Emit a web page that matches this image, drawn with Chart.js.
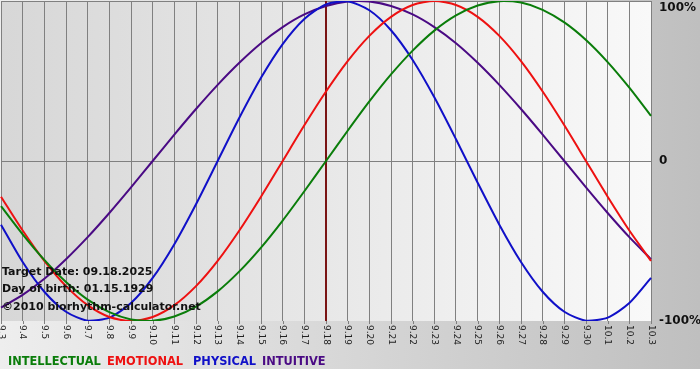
<!DOCTYPE html>
<html>
<head>
<meta charset="utf-8">
<script src="https://cdn.jsdelivr.net/npm/chart.js@4"></script>
<style>
html,body{margin:0;padding:0;background:#fff;}
#wrap{width:700px;height:370px;}
</style>
</head>
<body>
<div id="wrap"><canvas id="c" width="700" height="370"></canvas></div>
<script>
const dayLabels = ["9.3","9.4","9.5","9.6","9.7","9.8","9.9","9.10","9.11","9.12","9.13","9.14","9.15","9.16","9.17","9.18","9.19","9.20","9.21","9.22","9.23","9.24","9.25","9.26","9.27","9.28","9.29","9.30","10.1","10.2","10.3"];
const intellectual = [-0.282,-0.458,-0.618,-0.756,-0.866,-0.945,-0.990,-0.999,-0.972,-0.910,-0.815,-0.690,-0.541,-0.372,-0.189,0,0.189,0.372,0.541,0.690,0.815,0.910,0.972,0.999,0.990,0.945,0.866,0.756,0.618,0.458,0.282];
const emotional = [-0.223,-0.434,-0.624,-0.782,-0.901,-0.975,-1,-0.975,-0.901,-0.782,-0.624,-0.434,-0.223,0,0.223,0.434,0.624,0.782,0.901,0.975,1,0.975,0.901,0.782,0.624,0.434,0.223,0,-0.223,-0.434,-0.624];
const physical = [-0.398,-0.631,-0.817,-0.942,-0.998,-0.979,-0.888,-0.731,-0.520,-0.270,0,0.270,0.520,0.731,0.888,0.979,0.998,0.942,0.817,0.631,0.398,0.136,-0.136,-0.398,-0.631,-0.817,-0.942,-0.998,-0.979,-0.888,-0.731];
const intuitive = [-0.916,-0.837,-0.736,-0.614,-0.476,-0.325,-0.165,0,0.165,0.325,0.476,0.614,0.736,0.837,0.916,0.969,0.997,0.997,0.969,0.916,0.837,0.736,0.614,0.476,0.325,0.165,0,-0.165,-0.325,-0.476,-0.614];
const seriesNames = ["INTELLECTUAL","EMOTIONAL","PHYSICAL","INTUITIVE"];
const seriesColors = ["#0a7d0a","#ee1111","#1010c8","#4a0a84"];
const targetIndex = 15;
const yTickValues = [1,0,-1];
const yTickTexts = ["100%","0","-100%"];
const infoLines = ["Target Date: 09.18.2025","Day of birth: 01.15.1929","\u00a92010 biorhythm-calculator.net"];

const decor = {
  id:'decor',
  beforeDraw(chart){
    const ctx = chart.ctx, a = chart.chartArea;
    ctx.save();
    let g = ctx.createLinearGradient(0,0,700,0);
    g.addColorStop(0,'#eeeeee'); g.addColorStop(1,'#bfbfbf');
    ctx.fillStyle = g; ctx.fillRect(0,0,700,369);
    g = ctx.createLinearGradient(a.left,0,a.right,0);
    g.addColorStop(0,'#d7d7d7'); g.addColorStop(1,'#f9f9f9');
    ctx.fillStyle = g; ctx.fillRect(a.left,a.top,a.right-a.left,a.bottom-a.top);
    ctx.restore();
  },
  beforeDatasetsDraw(chart){
    const ctx = chart.ctx, a = chart.chartArea, xs = chart.scales.x;
    ctx.save();
    ctx.strokeStyle = '#808080'; ctx.lineWidth = 1;
    for(let i=0;i<dayLabels.length;i++){
      const x = Math.round(xs.getPixelForValue(i))+0.5;
      ctx.beginPath(); ctx.moveTo(x,a.bottom); ctx.lineTo(x,a.bottom+3); ctx.stroke();
    }
    const tx = Math.round(xs.getPixelForValue(targetIndex));
    ctx.strokeStyle = '#7a1414'; ctx.lineWidth = 2;
    ctx.beginPath(); ctx.moveTo(tx,a.top); ctx.lineTo(tx,a.bottom); ctx.stroke();
    ctx.restore();
  },
  afterDraw(chart){
    const ctx = chart.ctx, a = chart.chartArea, xs = chart.scales.x, ys = chart.scales.y;
    ctx.save();
    ctx.font = '9px "DejaVu Sans"';
    ctx.fillStyle = '#222';
    ctx.textAlign = 'left'; ctx.textBaseline = 'middle';
    for(let i=0;i<dayLabels.length;i++){
      const x = xs.getPixelForValue(i);
      ctx.save();
      ctx.translate(x, a.bottom+4);
      ctx.rotate(Math.PI/2);
      ctx.fillText(dayLabels[i],0,0);
      ctx.restore();
    }
    ctx.font = 'bold 12px "DejaVu Sans"';
    ctx.fillStyle = '#111';
    for(let i=0;i<yTickValues.length;i++){
      let y = ys.getPixelForValue(yTickValues[i]);
      y = Math.max(a.top+7, Math.min(a.bottom+2, y));
      ctx.fillText(yTickTexts[i], a.right+8, y);
    }
    ctx.font = 'bold 11px "DejaVu Sans"';
    ctx.fillStyle = '#111';
    ctx.textBaseline = 'alphabetic';
    const infoY = [275, 292, 310];
    infoLines.forEach((t,i)=>ctx.fillText(t, 2, infoY[i]));
    ctx.font = 'bold 11.4px "DejaVu Sans"';
    const legendX = [8, 107, 193, 262];
    seriesNames.forEach((n,i)=>{
      ctx.fillStyle = seriesColors[i];
      ctx.fillText(n, legendX[i], 365);
    });
    ctx.restore();
  }
};

new Chart(document.getElementById('c'), {
  type:'line',
  data:{
    labels: dayLabels,
    datasets:[
      {label:seriesNames[0], data:intellectual, borderColor:seriesColors[0]},
      {label:seriesNames[1], data:emotional, borderColor:seriesColors[1]},
      {label:seriesNames[2], data:physical, borderColor:seriesColors[2]},
      {label:seriesNames[3], data:intuitive, borderColor:seriesColors[3]}
    ].map(d=>Object.assign(d,{borderWidth:2,pointRadius:0,tension:0.25,fill:false}))
  },
  options:{
    responsive:false,
    animation:false,
    layout:{padding:{left:1,top:1,right:49,bottom:49}},
    plugins:{legend:{display:false},tooltip:{enabled:false}},
    scales:{
      x:{offset:false, ticks:{display:false}, border:{display:false},
         grid:{color:'#808080', lineWidth:1, drawTicks:false}},
      y:{min:-1,max:1, ticks:{display:false, stepSize:1}, border:{display:false},
         grid:{drawTicks:false, lineWidth:1,
           color:(c)=> (c.tick && c.tick.value === -1) ? 'rgba(0,0,0,0)' : '#808080'}}
    }
  },
  plugins:[decor]
});
</script>
</body>
</html>
